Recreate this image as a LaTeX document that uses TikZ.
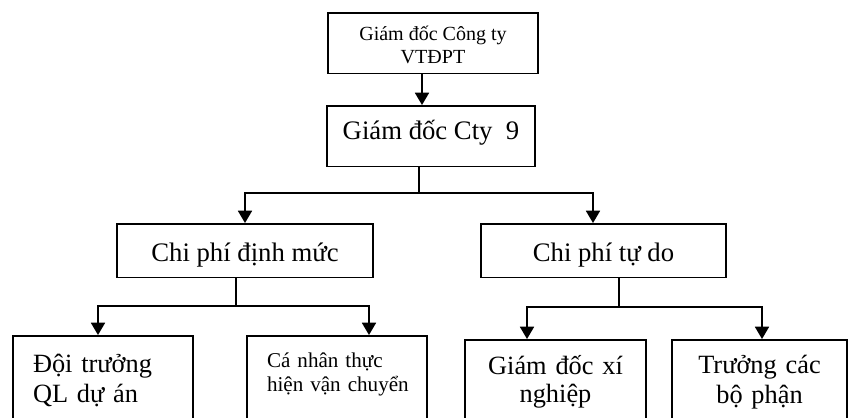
\documentclass[tikz,border=0pt]{standalone}
\usepackage{fontspec}
\setmainfont{Liberation Serif}
\usetikzlibrary{arrows.meta, positioning, calc}

\begin{document}
\begin{tikzpicture}[
  x=0.02cm, y=-0.02cm,
  box/.style={draw, line width=0.9pt, anchor=north, inner ysep=0pt, align=center, font=\fontsize{15.2}{17}\selectfont},
  lbox/.style={draw, line width=0.9pt, anchor=north, inner ysep=0pt, inner xsep=0.4cm, text width=2.8cm, align=left, font=\fontsize{15}{17}\selectfont},
  arr/.style={line width=0.9pt, -{Triangle[length=7pt, width=8pt]}},
  conn/.style={line width=0.9pt}
]
  \useasboundingbox (0,0) rectangle (848,417);

  \node[box, minimum width=4.2cm, font=\fontsize{11.4}{12.8}\selectfont] (gdvt) at (433,12)
    {\rule{0pt}{16pt}Giám đốc Công ty\\VTĐPT\rule[-5.8pt]{0pt}{0pt}};
  \node[box, minimum width=4.16cm, text height=19.3pt, text depth=15.3pt] (gd9) at (431,105)
    {Giám đốc Cty~~9};

  \node[box, minimum width=5.12cm, text height=21.5pt, text depth=9pt] (dinhmuc) at (245,223)
    {Chi phí định mức};
  \node[box, minimum width=4.9cm, text height=21.5pt, text depth=9pt] (tudo) at (603.5,223)
    {Chi phí tự do};

  \node[lbox] (doitruong) at (103,335)
    {\rule{0pt}{21pt}Đội~trưởng\\QL~dự~án\rule[-30pt]{0pt}{0pt}};
  \node[lbox, font=\fontsize{12}{13.5}\selectfont] (canhan) at (337,335)
    {\rule{0pt}{18pt}Cá~nhân~thực\\hiện~vận~chuyển\rule[-30pt]{0pt}{0pt}};
  \node[lbox, text width=2.82cm, align=center, font=\fontsize{15}{16}\selectfont] (gdxn) at (555.5,339)
    {\rule{0pt}{19.8pt}Giám đốc xí\\nghiệp\rule[-30pt]{0pt}{0pt}};
  \node[lbox, text width=2.7cm, align=center] (truong) at (759.5,339)
    {\rule{0pt}{19pt}Trưởng các\\bộ phận\rule[-30pt]{0pt}{0pt}};

  % connectors
  \draw[arr] ([xshift=-0.22cm]gdvt.south) -- ([xshift=-0.22cm]gdvt.south |- gd9.north);

  \coordinate (b1) at (419,193);
  \draw[conn] (gd9.south -| b1) -- (b1);
  \draw[arr] (b1) -| (dinhmuc.north);
  \draw[arr] (b1) -| ([xshift=-0.21cm]tudo.north);

  \coordinate (b2) at (236,306);
  \draw[conn] (dinhmuc.south -| b2) -- (b2);
  \draw[arr] (b2) -| ([xshift=-0.1cm]doitruong.north);
  \draw[arr] (b2) -| ([xshift=0.64cm]canhan.north);

  \coordinate (b3) at (619,307);
  \draw[conn] (tudo.south -| b3) -- (b3);
  \draw[arr] (b3) -| ([xshift=-0.57cm]gdxn.north);
  \draw[arr] (b3) -| ([xshift=0.05cm]truong.north);
\end{tikzpicture}
\end{document}
